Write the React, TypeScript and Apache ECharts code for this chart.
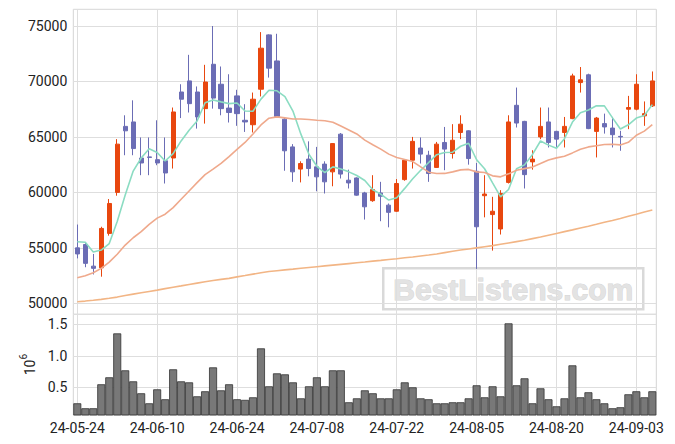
import { useEffect, useRef } from "react";
import * as echarts from "echarts";

const dates = [
  "24-05-24", "24-05-27", "24-05-28", "24-05-29", "24-05-30", "24-05-31", "24-06-03", "24-06-04", "24-06-05", "24-06-07",
  "24-06-10", "24-06-11", "24-06-12", "24-06-13", "24-06-14", "24-06-17", "24-06-18", "24-06-19", "24-06-20", "24-06-21",
  "24-06-24", "24-06-25", "24-06-26", "24-06-27", "24-06-28", "24-07-01", "24-07-02", "24-07-03", "24-07-04", "24-07-05",
  "24-07-08", "24-07-09", "24-07-10", "24-07-11", "24-07-12", "24-07-15", "24-07-16", "24-07-17", "24-07-18", "24-07-19",
  "24-07-22", "24-07-23", "24-07-24", "24-07-25", "24-07-26", "24-07-29", "24-07-30", "24-07-31", "24-08-01", "24-08-02",
  "24-08-05", "24-08-06", "24-08-07", "24-08-08", "24-08-09", "24-08-12", "24-08-13", "24-08-14", "24-08-16", "24-08-19",
  "24-08-20", "24-08-21", "24-08-22", "24-08-23", "24-08-26", "24-08-27", "24-08-28", "24-08-29", "24-08-30", "24-09-02",
  "24-09-03", "24-09-04", "24-09-05",
];

const xTickLabels = ["24-05-24", "24-06-10", "24-06-24", "24-07-08", "24-07-22", "24-08-05", "24-08-20", "24-09-03"];

const opens = [
  55000, 55300, 53350, 53200, 56300, 60000, 65950, 66350, 63100, 63200,
  62950, 62850, 63100, 69050, 70050, 69050, 67550, 71550, 69750, 67600,
  68700, 66500, 66100, 69300, 74200, 71850, 66600, 64100, 62100, 63000,
  62300, 62550, 61850, 65250, 61100, 61300, 59950, 59250, 59950, 58850,
  58300, 61150, 62900, 64000, 63350, 62250, 64500, 63500, 65400, 65550,
  61900, 59700, 58000, 56700, 60900, 67850, 66400, 62750, 65000, 66350,
  65500, 65400, 66650, 69900, 70600, 65500, 66200, 65800, 65050, 67500,
  67500, 66900, 67800,
];
const closes = [
  54450, 53600, 53150, 56750, 59000, 64350, 65550, 63950, 62650, 63150,
  62650, 61750, 67250, 68400, 68000, 66800, 69950, 68500, 67550, 67200,
  67100, 66350, 68400, 73000, 71200, 66850, 63750, 61850, 62600, 62150,
  61400, 60950, 64400, 61650, 60850, 59750, 58700, 60250, 59650, 58200,
  60800, 62900, 64600, 63450, 61700, 64350, 63900, 64700, 66150, 63050,
  56900, 59850, 58300, 59900, 66350, 66250, 61600, 63000, 65950, 64500,
  64800, 65950, 70500, 70150, 65750, 66700, 65900, 65200, 65000, 67650,
  69750, 67100, 70050,
];
const lows = [
  54050, 53250, 52600, 52400, 56100, 59700, 63350, 63350, 61550, 61550,
  62450, 60800, 62150, 66700, 67200, 65750, 66200, 67550, 66950, 66300,
  66000, 65450, 65400, 68650, 70350, 66800, 61950, 60950, 60900, 61450,
  60100, 59900, 60550, 61250, 60350, 59700, 57550, 59150, 57400, 56850,
  58250, 61050, 62150, 62600, 60950, 62200, 62000, 63050, 64800, 62500,
  53100, 57750, 54750, 56200, 60800, 65850, 60350, 62050, 64800, 64050,
  64100, 64050, 66600, 69000, 65700, 63150, 65300, 64050, 63750, 65700,
  67400, 66000, 67700,
];
const highs = [
  57100, 55450, 54450, 56900, 59400, 64800, 66950, 68300, 64950, 64950,
  66500, 64950, 67650, 69750, 72400, 69550, 71500, 75000, 71350, 70650,
  69250, 67950, 69000, 74450, 74250, 74300, 66750, 64350, 62800, 64600,
  64100, 62800, 64450, 65350, 62050, 61350, 60050, 61550, 60950, 59000,
  61200, 62950, 65000, 64950, 63750, 64550, 65900, 66150, 66950, 65600,
  62650, 61550, 59600, 60200, 66950, 69450, 66450, 63800, 67650, 67650,
  65550, 66800, 70700, 71300, 70700, 66800, 67100, 66800, 65550, 68700,
  70650, 68200, 70900,
];

const ma5 = [
  55550, 55500, 54620, 54800, 55390, 57370, 59760, 61920, 63100, 63930,
  63590, 62830, 63490, 64640, 65610, 66440, 68080, 68330, 68160, 68000,
  68060, 67340, 67320, 68410, 69210, 69160, 68640, 67330, 65250, 63440,
  62350, 61790, 62300, 62110, 61850, 61520, 61070, 60240, 59840, 59310,
  59520, 60360, 61230, 61990, 62690, 63400, 63600, 63620, 64160, 64430,
  62940, 62130, 60850, 59600, 60260, 62130, 62480, 63420, 64630, 64260,
  63970, 64840, 66340, 67180, 67430, 67810, 67800, 66740, 65710, 66090,
  66700, 66940, 67910,
];
const ma20 = [
  52300, 52480, 52760, 53150, 53710, 54420, 55250, 55910, 56460, 57110,
  57680, 58030, 58630, 59380, 60130, 60880, 61600, 62090, 62610, 63230,
  63870, 64500, 65270, 66080, 66690, 66810, 66720, 66620, 66620, 66570,
  66500, 66460, 66320, 65980, 65630, 65270, 64710, 64300, 63900, 63450,
  63140, 62970, 62780, 62300, 61820, 61700, 61710, 61850, 62030, 62070,
  61850, 61790, 61490, 61400, 61670, 62000, 62140, 62280, 62600, 62910,
  63110, 63260, 63560, 63890, 64100, 64210, 64310, 64340, 64280, 64510,
  65150, 65520, 66100,
];
const maLong = [
  50140, 50200, 50270, 50350, 50450, 50560, 50700, 50830, 50950, 51070,
  51190, 51320, 51450, 51570, 51700, 51820, 51940, 52060, 52160, 52250,
  52380, 52500, 52630, 52750, 52870, 52940, 53010, 53080, 53160, 53230,
  53300, 53370, 53440, 53510, 53580, 53650, 53720, 53800, 53870, 53950,
  54020, 54100, 54170, 54260, 54350, 54450, 54570, 54690, 54800, 54900,
  55000, 55100, 55200, 55320, 55440, 55560, 55680, 55830, 55980, 56140,
  56300, 56460, 56620, 56790, 56950, 57120, 57300, 57470, 57650, 57840,
  58030, 58230, 58420,
];

// volume in millions of shares
const volumes = [
  0.246, 0.167, 0.167, 0.548, 0.659, 1.357, 0.77, 0.595, 0.405, 0.246,
  0.468, 0.31, 0.786, 0.595, 0.579, 0.357, 0.437, 0.817, 0.452, 0.548,
  0.31, 0.3, 0.341, 1.119, 0.516, 0.722, 0.706, 0.579, 0.325, 0.516,
  0.659, 0.516, 0.77, 0.77, 0.262, 0.325, 0.452, 0.405, 0.325, 0.325,
  0.468, 0.579, 0.5, 0.325, 0.31, 0.246, 0.246, 0.262, 0.262, 0.325,
  0.532, 0.341, 0.516, 0.357, 1.516, 0.532, 0.643, 0.246, 0.484, 0.31,
  0.198, 0.325, 0.849, 0.341, 0.421, 0.31, 0.246, 0.167, 0.183, 0.389,
  0.437, 0.341, 0.437,
];

const UP = "#e8470f";
const DOWN = "#6b6db5";
const GRID = "#dedede";
const FONT = "Roboto";

export default function App() {
  const ref = useRef<HTMLDivElement>(null);
  useEffect(() => {
    document.body.style.margin = "0";
    const chart = echarts.init(ref.current!, null, { renderer: "svg" });
    const candleData = dates.map((_, i) => [opens[i], closes[i], lows[i], highs[i]]);
    const vLines = xTickLabels.map((d) => ({ xAxis: d }));
    const markLine = {
      silent: true,
      z: 1,
      symbol: ["none", "none"],
      label: { show: false },
      emphasis: { disabled: true },
      lineStyle: { color: GRID, width: 1, type: "solid" },
      data: vLines,
    };
    const left = 73.3;
    const width = 583;
    chart.setOption({
      animation: false,
      backgroundColor: "#ffffff",
      textStyle: { fontFamily: FONT },
      grid: [
        { left, width, top: 9.3, height: 305, show: true, borderColor: "#d4d4d4", borderWidth: 1, backgroundColor: "transparent", outerBoundsMode: "none" },
        { left, width, top: 314.3, height: 100.7, show: true, borderColor: "#d4d4d4", borderWidth: 1, backgroundColor: "transparent", outerBoundsMode: "none" },
      ],
      xAxis: [
        {
          type: "category", gridIndex: 0, data: dates, boundaryGap: true,
          axisLine: { show: false }, axisTick: { show: false }, axisLabel: { show: false }, splitLine: { show: false },
        },
        {
          type: "category", gridIndex: 1, data: dates, boundaryGap: true,
          axisLine: { show: false }, axisTick: { show: false }, splitLine: { show: false },
          axisLabel: {
            interval: (_i: number, v: string) => xTickLabels.includes(v),
            fontSize: 14, color: "#222", fontFamily: FONT, margin: 6,
          },
        },
      ],
      yAxis: [
        {
          type: "value", gridIndex: 0, min: 49008, max: 76506, splitNumber: 5, minInterval: 5000, maxInterval: 5000,
          axisLine: { show: false }, axisTick: { show: false },
          axisLabel: {
            fontSize: 14, color: "#222", fontFamily: FONT, margin: 6, showMinLabel: false, showMaxLabel: false,
            formatter: (v: number) => String(Math.round(v)),
          },
          splitLine: { show: true, lineStyle: { color: GRID, width: 1 } },
        },
        {
          type: "value", gridIndex: 1, min: 0.06, max: 1.66, splitNumber: 3, minInterval: 0.5, maxInterval: 0.5,
          axisLine: { show: false }, axisTick: { show: false },
          axisLabel: {
            fontSize: 14, color: "#222", fontFamily: FONT, margin: 6, showMinLabel: false, showMaxLabel: false,
            formatter: (v: number) => v.toFixed(1),
          },
          splitLine: { show: true, lineStyle: { color: GRID, width: 1 } },
          name: "{b|10}{s|6}",
          nameLocation: "middle",
          nameRotate: 90,
          nameGap: 33,
          nameTextStyle: {
            rich: {
              b: { fontSize: 14, color: "#222", fontFamily: FONT, lineHeight: 18, verticalAlign: "bottom" },
              s: { fontSize: 10, color: "#222", fontFamily: FONT, lineHeight: 18, verticalAlign: "top" },
            },
          },
        },
      ],
      series: [
        {
          type: "candlestick", xAxisIndex: 0, yAxisIndex: 0, data: candleData, barWidth: 4.6,
          itemStyle: { color: UP, color0: DOWN, borderColor: UP, borderColor0: DOWN, borderWidth: 1 },
          markLine,
        },
        {
          type: "line", xAxisIndex: 0, yAxisIndex: 0, data: ma5, showSymbol: false, symbol: "none",
          lineStyle: { color: "#8bdcc2", width: 1.6 }, silent: true, z: 3,
        },
        {
          type: "line", xAxisIndex: 0, yAxisIndex: 0, data: ma20, showSymbol: false, symbol: "none",
          lineStyle: { color: "#efa98c", width: 1.6 }, silent: true, z: 3,
        },
        {
          type: "line", xAxisIndex: 0, yAxisIndex: 0, data: maLong, showSymbol: false, symbol: "none",
          lineStyle: { color: "#f2b585", width: 1.6 }, silent: true, z: 3,
        },
        {
          type: "bar", xAxisIndex: 1, yAxisIndex: 1, data: volumes, barCategoryGap: "0%",
          itemStyle: { color: "#787878", borderColor: "#333333", borderWidth: 0.8 },
          markLine,
        },
      ],
      graphic: [
        {
          type: "group",
          left: 382, top: 267, z: 10, silent: true,
          children: [
            { type: "rect", shape: { x: 0, y: 0, width: 260, height: 41 }, style: { fill: "rgba(255,255,255,0.5)", stroke: "#d9d9d9", lineWidth: 2.5 } },
            {
              type: "text", x: 130, y: 21,
              style: {
                text: "BestListens.com", fill: "#e3e3e3", stroke: "#d6d6d6", lineWidth: 1,
                font: "bold 30px 'Liberation Sans'", align: "center", verticalAlign: "middle",
              },
            },
          ],
        },
      ],
    });
    return () => chart.dispose();
  }, []);
  return <div ref={ref} style={{ position: "fixed", left: 0, top: 0, width: 675, height: 444 }} />;
}
